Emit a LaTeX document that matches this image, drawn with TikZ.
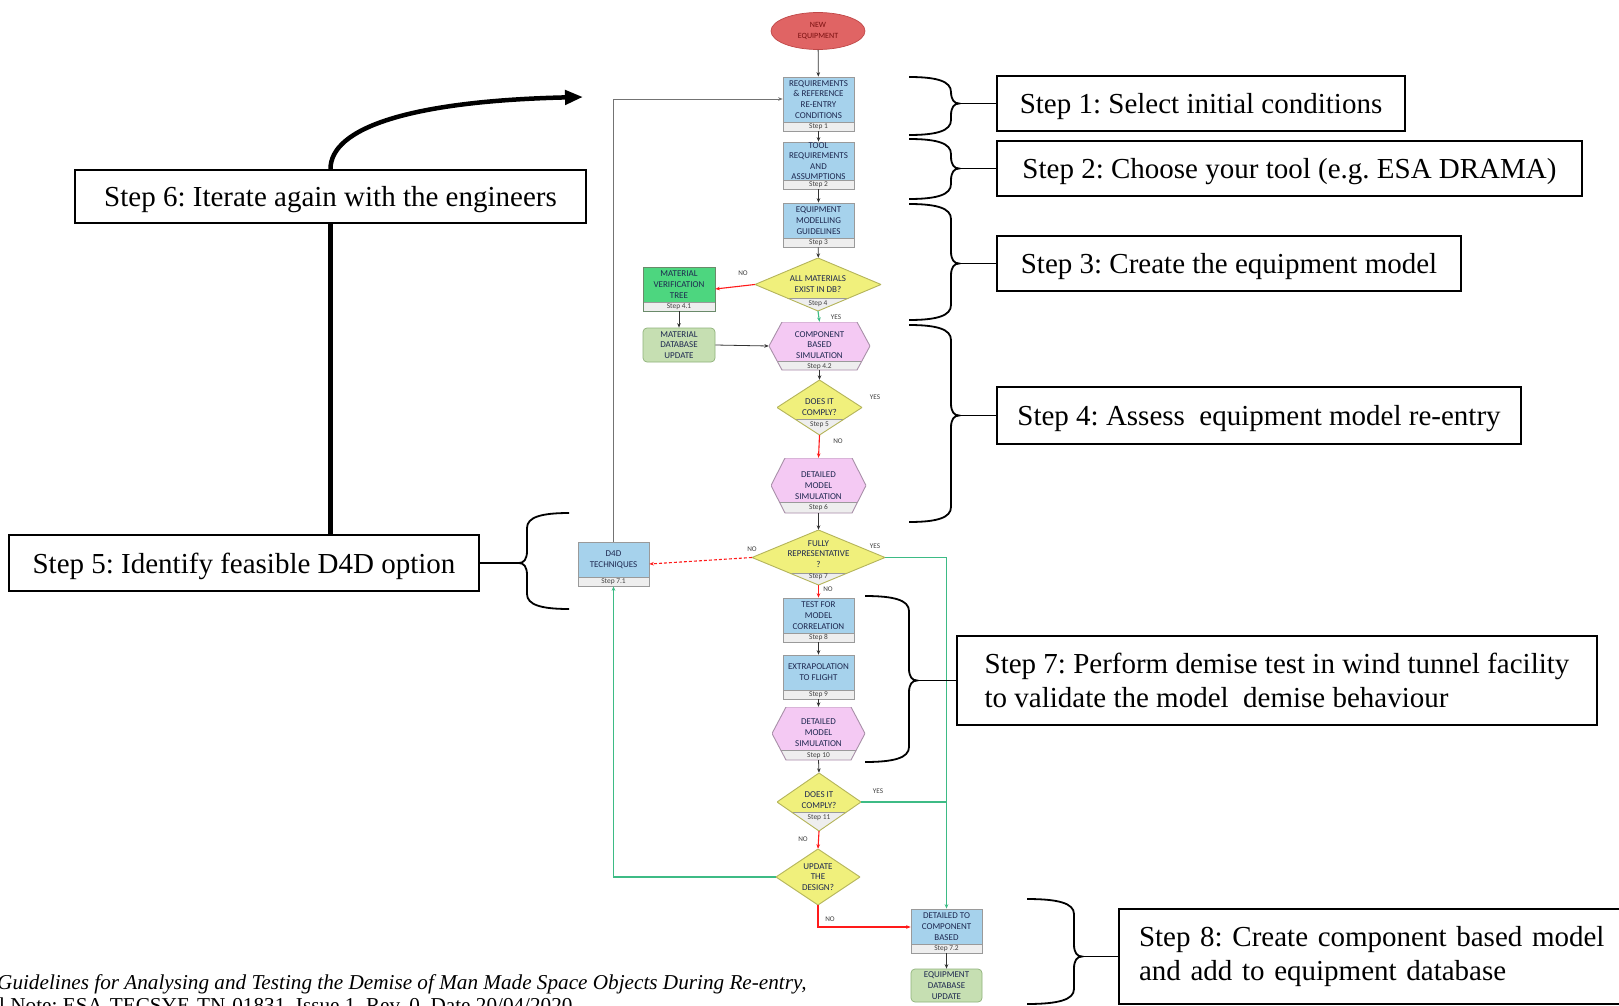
\documentclass[tikz,border=0pt]{standalone}
\usepackage{fontspec}
\setmainfont{Liberation Serif}
\newfontfamily\carlito{Carlito}
\usetikzlibrary{arrows.meta,shapes.geometric,calc}
\frenchspacing
\definecolor{boxblue}{HTML}{A6D2EC}
\definecolor{stripgrey}{HTML}{EEEEEE}
\definecolor{edgegrey}{HTML}{9A9A9A}
\definecolor{ellred}{HTML}{E06464}
\definecolor{ellredd}{HTML}{C04848}
\definecolor{elltxt}{HTML}{7A1010}
\definecolor{vgreen}{HTML}{4DD67F}
\definecolor{vgreend}{HTML}{6A8A6A}
\definecolor{lgreen}{HTML}{C6DFB2}
\definecolor{lgreend}{HTML}{8FB27A}
\definecolor{hexpink}{HTML}{F4C9F3}
\definecolor{hexbord}{HTML}{A890A8}
\definecolor{dyellow}{HTML}{F0F07C}
\definecolor{dyellowd}{HTML}{B4B45A}
\definecolor{arrred}{HTML}{FF1A1A}
\definecolor{arrgreen}{HTML}{3DBB85}
\definecolor{fctxt}{HTML}{1E2850}
\newcommand\diapath{(path picture bounding box.north) -- (path picture bounding box.east) -- (path picture bounding box.south) -- (path picture bounding box.west) -- cycle}
\newcommand\hexpath{(path picture bounding box.west) -- ([xshift=\hexin]path picture bounding box.north west) -- ([xshift=-\hexin]path picture bounding box.north east) -- (path picture bounding box.east) -- ([xshift=-\hexin]path picture bounding box.south east) -- ([xshift=\hexin]path picture bounding box.south west) -- cycle}
\newcommand\mybrace[6]{%
  \draw[bracel] (#1,#3) .. controls ({#1+0.65*(#2-#1)},#3) and (#2,{#3+4}) .. (#2,{#3+15})
    -- (#2,{#5-12}) .. controls (#2,{#5-4}) and ({#2+3*#6},#5) .. ({#2+8*#6},#5)
    .. controls ({#2+3*#6},#5) and (#2,{#5+4}) .. (#2,{#5+12})
    -- (#2,{#4-15}) .. controls (#2,{#4-4}) and ({#1+0.65*(#2-#1)},#4) .. (#1,#4);}
\tikzset{
  strip/.store in=\striph, strip=9pt,
  hexin/.store in=\hexin, hexin=14pt,
  fct/.style={font=\carlito\fontsize{9}{10.8}\selectfont, text=fctxt, align=center, inner sep=0pt},
  fcs/.style={fct, font=\carlito\fontsize{9}{10.3}\selectfont},
  steplbl/.style={font=\carlito\fontsize{7.4}{8}\selectfont, text=black!75, inner sep=0pt},
  yn/.style={font=\carlito\fontsize{7.2}{8}\selectfont, text=black!75, inner sep=0pt},
  bbox/.style={rectangle, draw=edgegrey, line width=0.7pt, fill=boxblue, inner sep=0pt, minimum width=71pt,
    path picture={\fill[stripgrey] (path picture bounding box.south west) rectangle ([yshift=\striph]path picture bounding box.south east);
      \draw[edgegrey,line width=0.7pt] ([yshift=\striph]path picture bounding box.south west) -- ([yshift=\striph]path picture bounding box.south east);}},
  gbox/.style={bbox, fill=vgreen, draw=vgreend},
  rbox/.style={rectangle, rounded corners=4pt, draw=lgreend, fill=lgreen, line width=0.7pt, minimum width=72pt, inner sep=0pt, fct},
  diam/.style={rectangle, inner sep=0pt,
    path picture={\fill[dyellow] \diapath;
      \begin{scope}\clip \diapath;
        \fill[stripgrey] (path picture bounding box.south west) rectangle ([yshift=\striph]path picture bounding box.south east);
        \draw[edgegrey,line width=0.6pt] ([yshift=\striph]path picture bounding box.south west) -- ([yshift=\striph]path picture bounding box.south east);
      \end{scope}
      \draw[dyellowd,line width=0.9pt] \diapath;}},
  hexa/.style={rectangle, inner sep=0pt,
    path picture={\fill[hexpink] \hexpath;
      \begin{scope}\clip \hexpath;
        \fill[stripgrey] (path picture bounding box.south west) rectangle ([yshift=\striph]path picture bounding box.south east);
        \draw[edgegrey,line width=0.6pt] ([yshift=\striph]path picture bounding box.south west) -- ([yshift=\striph]path picture bounding box.south east);
      \end{scope}
      \draw[hexbord,line width=0.9pt] \hexpath;}},
  arr/.style={draw=black!80, line width=0.8pt, -{Stealth[length=4.5pt,width=3.6pt]}},
  rarr/.style={arr, draw=arrred, line width=1.1pt},
  garr/.style={arr, draw=arrgreen, line width=1.1pt},
  gline/.style={draw=arrgreen, line width=1.1pt},
  stepbox/.style={draw=black, line width=1.3pt, fill=white, font=\fontsize{29}{34}\selectfont, inner xsep=20pt, inner ysep=0pt},
  onebox/.style={stepbox, text depth=0pt},
  bracel/.style={draw=black, line width=1.8pt},
  thk/.style={draw=black, line width=4.5pt},
}
\begin{document}
\begin{tikzpicture}[x=1pt,y=-1pt]
\fill[white] (0,0) rectangle (1619,1006);
\useasboundingbox (0,0) rectangle (1619,1006);

% ---------- flowchart nodes ----------
\node[ellipse, draw=ellredd, fill=ellred, line width=0.7pt, minimum width=94pt, minimum height=37pt, inner sep=0pt,
  font=\carlito\fontsize{8}{11}\selectfont, text=elltxt, align=center] (ne) at (818,31) {NEW\\EQUIPMENT};

\node[bbox, minimum height=54pt,
  label={[fct,yshift=4.5pt]center:{REQUIREMENTS\\\& REFERENCE\\RE-ENTRY\\CONDITIONS}},
  label={[steplbl,anchor=center,yshift=4.5pt]south:Step 1}] (b1) at (818.5,104) {};
\node[bbox, minimum height=47pt,
  label={[fcs,yshift=4.5pt]center:{TOOL\\REQUIREMENTS\\AND\\ASSUMPTIONS}},
  label={[steplbl,anchor=center,yshift=4.5pt]south:Step 2}] (b2) at (818.5,165.5) {};
\node[bbox, minimum height=44pt,
  label={[fct,yshift=4.5pt]center:{EQUIPMENT\\MODELLING\\GUIDELINES}},
  label={[steplbl,anchor=center,yshift=4.5pt]south:Step 3}] (b3) at (818.5,225) {};
\node[diam, strip=13pt, minimum width=126pt, minimum height=53pt,
  label={[fct]center:{ALL MATERIALS\\EXIST IN DB?}},
  label={[steplbl,anchor=center,yshift=8pt]south:Step 4}] (d4) at (818,284.5) {};
\node[gbox, minimum width=72pt, minimum height=44pt,
  label={[fct,yshift=4.5pt]center:{MATERIAL\\VERIFICATION\\TREE}},
  label={[steplbl,anchor=center,yshift=4.5pt]south:Step 4.1}] (g41) at (679,289) {};
\node[rbox, minimum height=34pt] (mdb) at (679,345) {MATERIAL\\DATABASE\\UPDATE};
\node[hexa, strip=8.5pt, hexin=13pt, minimum width=101pt, minimum height=48pt,
  label={[fct,yshift=1pt]center:{COMPONENT\\BASED\\SIMULATION}},
  label={[steplbl,anchor=center,yshift=4pt]south:Step 4.2}] (h42) at (819.5,346) {};
\node[diam, strip=16pt, minimum width=85pt, minimum height=55pt,
  label={[fct]center:{DOES IT\\COMPLY?}},
  label={[steplbl,anchor=center,yshift=11pt]south:Step 5}] (d5) at (819.5,407.5) {};
\node[hexa, strip=11pt, hexin=14pt, minimum width=95pt, minimum height=55pt,
  label={[fct]center:{DETAILED\\MODEL\\SIMULATION}},
  label={[steplbl,anchor=center,yshift=5.5pt]south:Step 6}] (h6) at (818.5,485.5) {};
\node[diam, strip=12pt, minimum width=133pt, minimum height=55pt,
  label={[fct,yshift=3.5pt]center:{FULLY\\REPRESENTATIVE\\?}},
  label={[steplbl,anchor=center,yshift=9pt]south:Step 7}] (d7) at (818.5,557.5) {};
\node[bbox, minimum height=44pt,
  label={[fct,yshift=4.5pt]center:{D4D\\TECHNIQUES}},
  label={[steplbl,anchor=center,yshift=4.5pt]south:Step 7.1}] (d4d) at (613.5,564) {};
\node[bbox, minimum height=44pt,
  label={[fct,yshift=4.5pt]center:{TEST FOR\\MODEL\\CORRELATION}},
  label={[steplbl,anchor=center,yshift=4.5pt]south:Step 8}] (b8) at (818.5,620) {};
\node[bbox, minimum height=44pt,
  label={[fct,yshift=4.5pt]center:{EXTRAPOLATION\\TO FLIGHT}},
  label={[steplbl,anchor=center,yshift=4.5pt]south:Step 9}] (b9) at (818.5,677) {};
\node[hexa, strip=10pt, hexin=14pt, minimum width=93pt, minimum height=53pt,
  label={[fct,yshift=1pt]center:{DETAILED\\MODEL\\SIMULATION}},
  label={[steplbl,anchor=center,yshift=5pt]south:Step 10}] (h10) at (818.5,733.5) {};
\node[diam, strip=19pt, minimum width=84pt, minimum height=58pt,
  label={[fct,yshift=2pt]center:{DOES IT\\COMPLY?}},
  label={[steplbl,anchor=center,yshift=14pt]south:Step 11}] (d11) at (819,802) {};
\node[diam, strip=0pt, minimum width=84pt, minimum height=56pt,
  label={[fct]center:{UPDATE\\THE\\DESIGN?}}] (d12) at (818,877) {};
\node[bbox, minimum height=44pt,
  label={[fct,yshift=4.5pt]center:{DETAILED TO\\COMPONENT\\BASED}},
  label={[steplbl,anchor=center,yshift=4.5pt]south:Step 7.2}] (b72) at (946.5,931) {};
\node[rbox, minimum width=71pt, minimum height=33pt] (edb) at (946.5,985.5) {EQUIPMENT\\DATABASE\\UPDATE};

% ---------- flowchart connectors ----------
\draw[arr] (ne) -- (b1);
\draw[arr] (b1) -- (b2);
\draw[arr] (b2) -- (b3);
\draw[arr] (b3) -- (d4);
\draw[rarr] (d4.west) -- (g41.east);
\draw[garr] (d4.south) -- (h42.north);
\draw[arr] (g41) -- (mdb);
\draw[arr] (mdb.east) -- (h42.west);
\draw[arr] (h42.south) -- (d5.north);
\draw[rarr] (d5.south) -- (h6.north);
\draw[arr] (h6.south) -- (d7.north);
\draw[rarr, dash pattern=on 3pt off 2pt] (d7.west) -- (d4d.east);
\draw[garr] (d7.east) -| (b72.north);
\draw[rarr] (d7.south) -- (b8.north);
\draw[arr] (b8) -- (b9);
\draw[arr] (b9.south) -- (h10.north);
\draw[arr] (h10.south) -- (d11.north);
\draw[gline] (d11.east) -- (d11.east -| b72.north);
\draw[rarr] (d11.south) -- (d12.north);
\draw[garr] (d12.west) -| (d4d.south);
\draw[rarr] (d12.south) |- ([yshift=4pt]b72.west);
\draw[arr] (b72) -- (edb);
\draw[arr, draw=black!55] (d4d.north) |- ([yshift=5pt]b1.west);

% ---------- yes / no labels ----------
\node[yn] (l1) at (743,273) {NO};
\node[yn] (l2) at (836,317) {YES};
\node[yn] (l3) at (875,397) {YES};
\node[yn] (l4) at (838,441) {NO};
\node[yn] (l5) at (752,549) {NO};
\node[yn] (l6) at (875,546) {YES};
\node[yn] (l7) at (828,589) {NO};
\node[yn] (l8) at (878,791) {YES};
\node[yn] (l9) at (803,839) {NO};
\node[yn] (l10) at (830,919) {NO};

% ---------- step text boxes ----------
\node[onebox, minimum width=408pt, minimum height=55pt] (s1) at (1201,103.5) {Step 1: Select initial conditions};
\node[onebox, minimum width=585pt, minimum height=55pt] (s2) at (1289.5,168.5) {Step 2: Choose your tool (e.g. ESA DRAMA)};
\node[onebox, minimum width=464pt, minimum height=55pt] (s3) at (1229,263.5) {Step 3: Create the equipment model};
\node[onebox, minimum width=524pt, minimum height=57pt] (s4) at (1259,415.5) {Step 4: Assess\ \ equipment model re-entry};
\node[onebox, minimum width=470pt, minimum height=56pt] (s5) at (244,563) {Step 5: Identify feasible D4D option};
\node[onebox, minimum width=511pt, minimum height=53pt] (s6) at (330.5,196.5) {Step 6: Iterate again with the engineers};
\node[stepbox, align=left, minimum width=640pt, minimum height=89pt] (s7) at (1277,680.5) {Step 7: Perform demise test in wind tunnel facility\\to validate the model\ \ demise behaviour};
\node[stepbox, text width=480pt, align=left, minimum height=95pt] (s8) at (1379,956.5) {Step 8: Create component based model\\and add to equipment database};

% ---------- braces ----------
\mybrace{909}{951}{77}{135}{103.5}{1}
\coordinate (t1) at (959,103.5);
\draw[bracel] (t1) -- (s1.west);
\mybrace{909}{951}{139}{199}{168.5}{1}
\coordinate (t2) at (959,168.5);
\draw[bracel] (t2) -- (s2.west);
\mybrace{909}{951}{204}{320}{263.5}{1}
\coordinate (t3) at (959,263.5);
\draw[bracel] (t3) -- (s3.west);
\mybrace{909}{951}{325}{522}{415.5}{1}
\coordinate (t4) at (959,415.5);
\draw[bracel] (t4) -- (s4.west);
\mybrace{569}{527}{513}{609}{563}{(-1)}
\coordinate (t5) at (519,563);
\draw[bracel] (t5) -- (s5.east);
\mybrace{865}{909}{596}{762}{680.5}{1}
\coordinate (t7) at (917,680.5);
\draw[bracel] (t7) -- (s7.west);
\mybrace{1027}{1074}{899}{1004}{956.5}{1}
\coordinate (t8) at (1082,956.5);
\draw[bracel] (t8) -- (s8.west);

% ---------- iterate arrow ----------
\coordinate (itend) at (583,97);
\draw[thk] (s5.north -| s6.south) -- (s6.south);
\draw[thk, -{Triangle[length=18pt,width=14pt]}] (s6.north) .. controls (330,128) and (410,101) .. (itend);

% ---------- footnote ----------
\node[anchor=base west, inner sep=0pt, font=\itshape\fontsize{21.2}{24}\selectfont] (fn1) at (-3,989) {Guidelines for Analysing and Testing the Demise of Man Made Space Objects During Re-entry,};
\node[anchor=base west, inner sep=0pt, font=\fontsize{21.2}{24}\selectfont] (fn2) at (-1,1012) {l Note: ESA-TECSYE-TN-01831, Issue 1, Rev. 0, Date 20/04/2020};
\end{tikzpicture}
\end{document}
